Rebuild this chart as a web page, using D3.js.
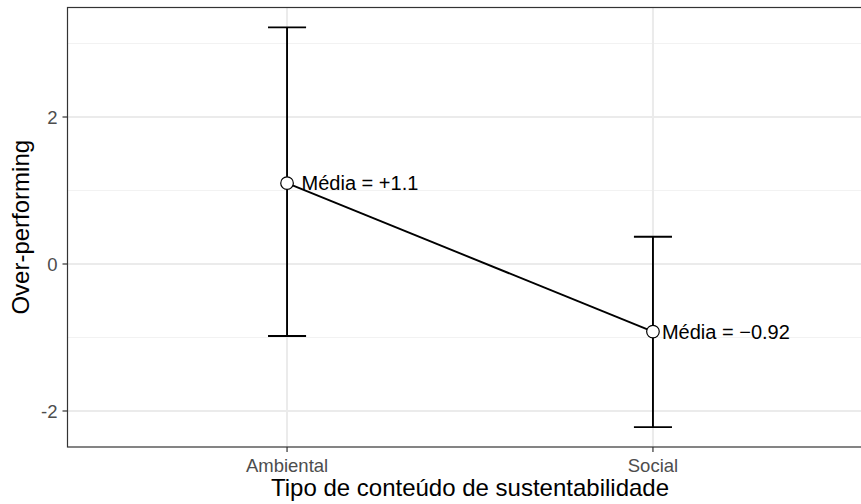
<!DOCTYPE html>
<html>
<head>
<meta charset="utf-8">
<script src="https://cdn.jsdelivr.net/npm/d3@7"></script>
<style>
  body { margin: 0; background: #fff; }
  svg { display: block; font-family: "Liberation Sans", Arial, sans-serif; }
</style>
</head>
<body>
<div id="chart"></div>
<script>
// Dados
const categorias = ["Ambiental", "Social"];
const medias = [1.1, -0.92];
const limSup = [3.22, 0.37];
const limInf = [-0.98, -2.22];
const rotulos = [" Média = +1.1", "Média = \u22120.92"];
const yTicks = [-2, 0, 2];
const yMinor = [-1, 1, 3];

function drawGraphic() {
    const W = 861, H = 504
    const margin = { top: 7.5, left: 67.5 }
    const panelW = 805, panelH = 439.5

    const svg = d3.select("#chart").append("svg")
        .attr("width", W)
        .attr("height", H)

    const g = svg.append("g")
        .attr("transform", "translate(" + margin.left + "," + margin.top + ")")

    // escalas (eixo discreto com expansão de 0.6 como no ggplot)
    const x = d3.scaleLinear().domain([0.4, 2.6]).range([0, panelW])
    const y = d3.scaleLinear().domain([-2.49, 3.49]).range([panelH, 0])
    const xc = i => x(i + 1)

    // grade menor
    g.selectAll(".minor").data(yMinor).join("line")
        .attr("x1", 0).attr("x2", panelW)
        .attr("y1", d => y(d)).attr("y2", d => y(d))
        .attr("stroke", "#f2f2f2").attr("stroke-width", 1)

    // grade maior
    g.selectAll(".majorY").data(yTicks).join("line")
        .attr("x1", 0).attr("x2", panelW)
        .attr("y1", d => y(d)).attr("y2", d => y(d))
        .attr("stroke", "#ebebeb").attr("stroke-width", 2)
    g.selectAll(".majorX").data(categorias).join("line")
        .attr("x1", (d, i) => xc(i)).attr("x2", (d, i) => xc(i))
        .attr("y1", 0).attr("y2", panelH)
        .attr("stroke", "#ebebeb").attr("stroke-width", 2)

    // barras de erro
    const capHalf = (x(1.052) - x(0.948)) / 2
    categorias.forEach((c, i) => {
        g.append("line")
            .attr("x1", xc(i)).attr("x2", xc(i))
            .attr("y1", y(limSup[i])).attr("y2", y(limInf[i]))
            .attr("stroke", "#000").attr("stroke-width", 1.9)
        ;[limSup[i], limInf[i]].forEach(v => {
            g.append("line")
                .attr("x1", xc(i) - capHalf).attr("x2", xc(i) + capHalf)
                .attr("y1", y(v)).attr("y2", y(v))
                .attr("stroke", "#000").attr("stroke-width", 1.9)
        })
    })

    // linha das médias
    g.append("path")
        .datum(medias)
        .attr("fill", "none")
        .attr("stroke", "#000")
        .attr("stroke-width", 1.9)
        .attr("d", d3.line().x((d, i) => xc(i)).y(d => y(d)))

    // pontos
    g.selectAll(".pt").data(medias).join("circle")
        .attr("cx", (d, i) => xc(i))
        .attr("cy", d => y(d))
        .attr("r", 6.3)
        .attr("fill", "#fff")
        .attr("stroke", "#000")
        .attr("stroke-width", 1.2)

    // rótulos
    g.selectAll(".lbl").data(rotulos).join("text")
        .attr("x", (d, i) => xc(i) + 9)
        .attr("y", (d, i) => y(medias[i]))
        .attr("dy", "0.36em")
        .attr("font-size", 20)
        .attr("fill", "#000")
        .style("white-space", "pre")
        .text(d => d)

    // borda do painel
    g.append("rect")
        .attr("x", 0).attr("y", 0)
        .attr("width", panelW).attr("height", panelH)
        .attr("fill", "none")
        .attr("stroke", "#333333").attr("stroke-width", 1.2)

    // eixo Y
    yTicks.forEach(t => {
        g.append("line")
            .attr("x1", -5).attr("x2", 0)
            .attr("y1", y(t)).attr("y2", y(t))
            .attr("stroke", "#333333").attr("stroke-width", 1.2)
        g.append("text")
            .attr("x", -10).attr("y", y(t))
            .attr("dy", "0.36em")
            .attr("text-anchor", "end")
            .attr("font-size", 18.5)
            .attr("fill", "#4d4d4d")
            .text(t)
    })

    // eixo X
    categorias.forEach((c, i) => {
        g.append("line")
            .attr("x1", xc(i)).attr("x2", xc(i))
            .attr("y1", panelH).attr("y2", panelH + 5)
            .attr("stroke", "#333333").attr("stroke-width", 1.2)
        g.append("text")
            .attr("x", xc(i)).attr("y", panelH + 25)
            .attr("text-anchor", "middle")
            .attr("font-size", 18.5)
            .attr("fill", "#4d4d4d")
            .text(c)
    })

    // títulos dos eixos
    svg.append("text")
        .attr("x", margin.left + panelW / 2)
        .attr("y", 496)
        .attr("text-anchor", "middle")
        .attr("font-size", 24)
        .attr("fill", "#000")
        .text("Tipo de conteúdo de sustentabilidade")

    svg.append("text")
        .attr("transform", "translate(29," + (margin.top + panelH / 2) + ") rotate(-90)")
        .attr("text-anchor", "middle")
        .attr("font-size", 24)
        .attr("fill", "#000")
        .text("Over-performing")
}

window.addEventListener("load", drawGraphic);
</script>
</body>
</html>
